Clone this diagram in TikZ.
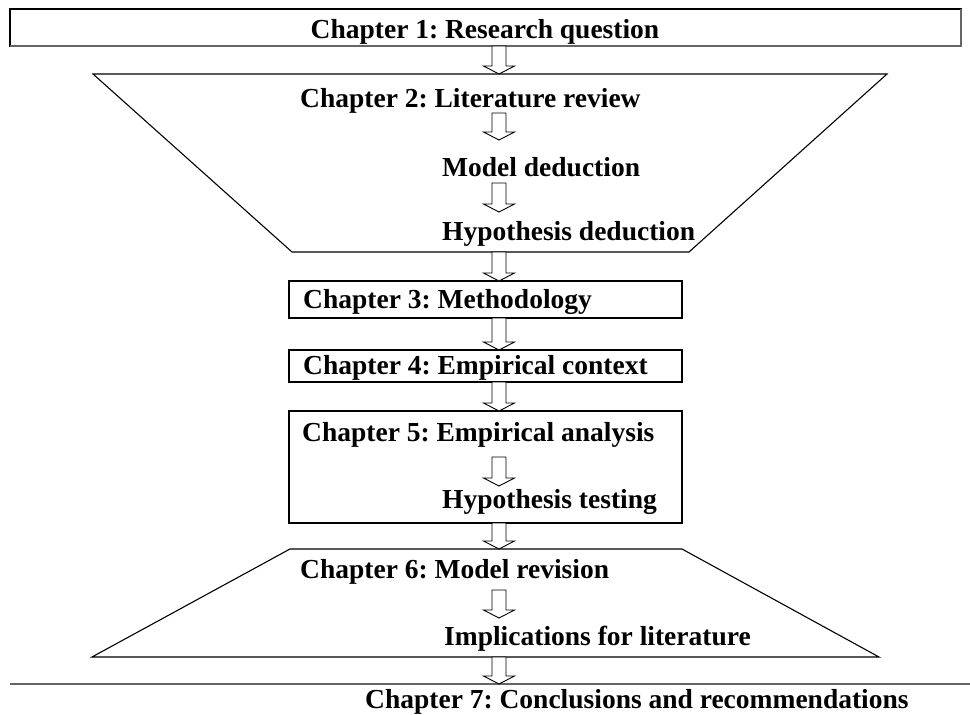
\documentclass[tikz,border=0pt]{standalone}
\usepackage{fontspec}
\setmainfont{Liberation Serif}
\usetikzlibrary{calc}
\frenchspacing

\tikzset{
  % one pixel of the layout grid = 1pt, y grows downwards
  x=1pt, y=-1pt,
  outline/.style={draw=black, line width=1.1pt, line join=miter},
  shade edge/.style={draw=black!60, line width=2.4pt},
  label text/.style={font=\fontsize{27.5}{30}\selectfont\bfseries, inner sep=0pt},
  % hollow block arrow between two points on the same vertical
  blockarrow/.style={to path={
    let \p1=(\tikztostart), \p2=(\tikztotarget) in
    (\x1-7pt,\y1) -- (\x1+7pt,\y1) -- (\x1+7pt,\y2+8pt) -- (\x1+15.5pt,\y2+8pt)
    -- (\x1,\y2) -- (\x1-15.5pt,\y2+8pt) -- (\x1-7pt,\y2+8pt) -- cycle}},
  flowarrow/.style={draw=black, fill=white, line width=0.9pt, line join=miter}
}

\begin{document}
\begin{tikzpicture}
\useasboundingbox (0,0) rectangle (970,715);

% ---- Chapter 1 box with shaded right and bottom edges
\draw[outline] (10,9) rectangle (961,46);
\draw[shade edge] (10,46) -- (961,46) -- (961,9);
\node[label text, anchor=base] (c1) at (485,38) {Chapter 1: Research question};

% ---- literature funnel
\coordinate (t1a) at (93,74);
\coordinate (t1b) at (887,74);
\coordinate (t1c) at (689,252);
\coordinate (t1d) at (292,252);
\draw[outline] (t1a) -- (t1b) -- (t1c) -- (t1d) -- cycle;
\node[label text, anchor=base west] (c2) at (300,107) {Chapter 2: Literature review};
\node[label text, anchor=base west] (md) at (442,176) {Model deduction};
\node[label text, anchor=base west] (hd) at (442,240) {Hypothesis deduction};

% ---- methodology and context boxes
\draw[outline] (289,281) rectangle (682,318);
\node[label text, anchor=base west] (c3) at (303,308) {Chapter 3: Methodology};
\draw[outline] (289,350) rectangle (682,382);
\node[label text, anchor=base west] (c4) at (303,374) {Chapter 4: Empirical context};

% ---- empirical analysis box
\draw[outline] (289,411) rectangle (682,523);
\node[label text, anchor=base west] (c5) at (302,441) {Chapter 5: Empirical analysis};
\node[label text, anchor=base west] (ht) at (442,508) {Hypothesis testing};

% ---- revision funnel
\coordinate (t2a) at (290,549);
\coordinate (t2b) at (682,549);
\coordinate (t2c) at (879,657);
\coordinate (t2d) at (92,657);
\draw[outline] (t2a) -- (t2b) -- (t2c) -- (t2d) -- cycle;
\node[label text, anchor=base west] (c6) at (300,578) {Chapter 6: Model revision};
\node[label text, anchor=base west] (il) at (444,645) {Implications for literature};

% ---- conclusions box (runs past the page edges)
\draw[shade edge] (10,684) -- (975,684);
\node[label text, anchor=base west] (c7) at (365,708) {Chapter 7: Conclusions and recommendations};

% ---- arrow end points on the common axis
\coordinate (a1s) at (499,46);  \coordinate (a1e) at (499,74);
\coordinate (a2s) at (499,113); \coordinate (a2e) at (499,140);
\coordinate (a3s) at (499,183); \coordinate (a3e) at (499,212);
\coordinate (a4s) at (499,252); \coordinate (a4e) at (499,281);
\coordinate (a5s) at (499,318); \coordinate (a5e) at (499,350);
\coordinate (a6s) at (499,382); \coordinate (a6e) at (499,411);
\coordinate (a7s) at (499,457); \coordinate (a7e) at (499,486);
\coordinate (a8s) at (499,523); \coordinate (a8e) at (499,549);
\coordinate (a9s) at (499,590); \coordinate (a9e) at (499,618);
\coordinate (a10s) at (499,657); \coordinate (a10e) at (499,684);

\foreach \i in {1,...,10}
  \draw[flowarrow] (a\i s) to[blockarrow] (a\i e);
\end{tikzpicture}
\end{document}
